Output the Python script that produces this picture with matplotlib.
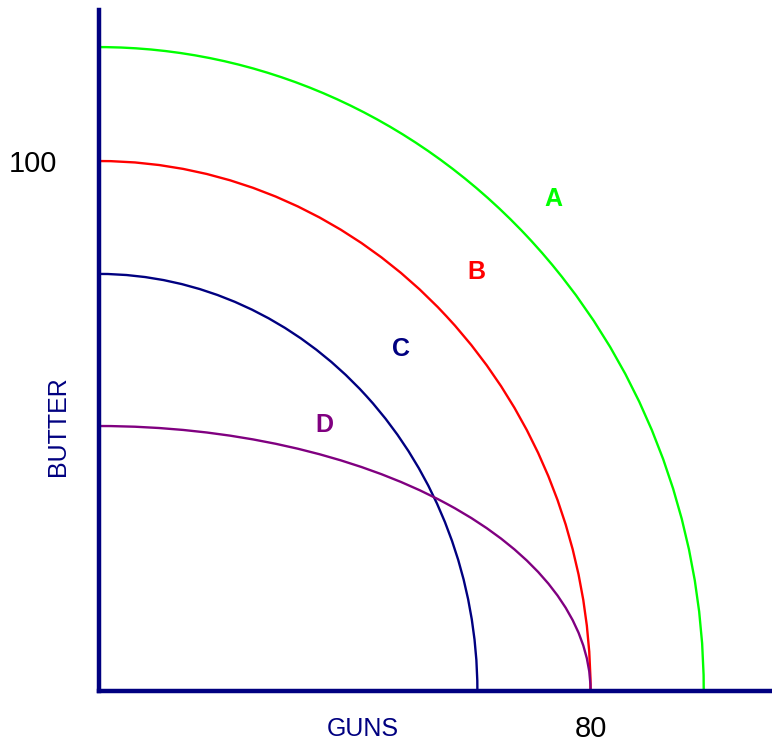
import matplotlib
matplotlib.use('Agg')
import matplotlib.pyplot as plt
from matplotlib.patches import Arc

plt.rcParams['font.family'] = ['Liberation Sans', 'DejaVu Sans']

# Curvas de posibilidades de producción (corte con eje GUNS, corte con eje BUTTER)
curvas = ['A', 'B', 'C', 'D']
corte_guns = [98.4, 80, 61.6, 80]
corte_butter = [121.5, 100, 78.7, 50]
colores = ['#00ff00', '#ff0000', '#000080', '#800080']

# Posiciones de las etiquetas de cada curva
etiqueta_x = [73.9, 61.5, 49.2, 36.8]
etiqueta_y = [92.8, 79.1, 64.5, 50.2]

fig = plt.figure(figsize=(7.72, 7.42), dpi=100)
ax = fig.add_axes([98.5 / 772, 51 / 742, 1 - 98.5 / 772, 681 / 742])

for nombre, gx, by, col, lx, ly in zip(curvas, corte_guns, corte_butter, colores, etiqueta_x, etiqueta_y):
    arco = Arc((0, 0), 2 * gx, 2 * by, theta1=0, theta2=90, color=col, lw=1.7)
    ax.add_patch(arco)
    ax.text(lx, ly, nombre, color=col, fontsize=18, fontweight='bold', ha='center', va='center')

ax.set_xlim(0, 109.5)
ax.set_ylim(0, 128.5)

# Ejes gruesos azul marino
for lado in ['top', 'right']:
    ax.spines[lado].set_visible(False)
for lado in ['left', 'bottom']:
    ax.spines[lado].set_color('#000080')
    ax.spines[lado].set_linewidth(3.2)

ax.set_xticks([80])
ax.set_xticklabels(['80'])
ax.set_yticks([100])
ax.set_yticklabels(['100'])
ax.tick_params(axis='both', length=0, labelsize=21)
ax.tick_params(axis='x', pad=17)
ax.tick_params(axis='y', pad=30)

fig.text(363 / 772, 1 - 729 / 742, 'GUNS', color='#000080', fontsize=18, ha='center', va='center')
fig.text(58 / 772, 1 - 426 / 742, 'BUTTER', color='#000080', fontsize=18, ha='center', va='center', rotation=90)

plt.savefig('out.png', dpi=100)
